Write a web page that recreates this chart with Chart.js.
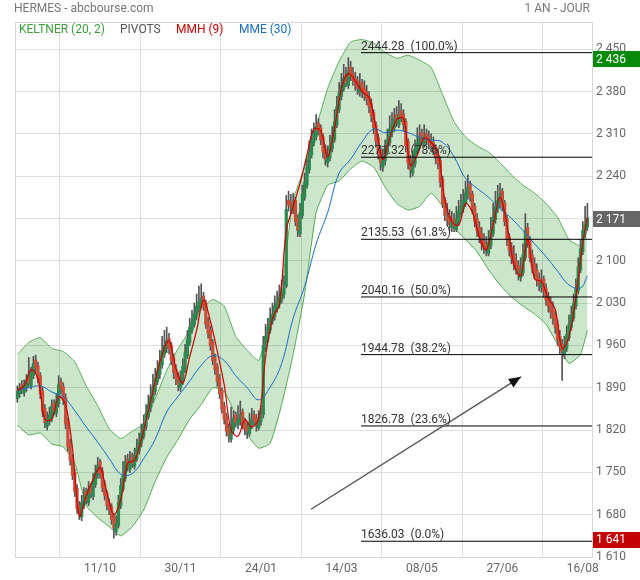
<!DOCTYPE html>
<html><head><meta charset="utf-8">
<script src="https://cdn.jsdelivr.net/npm/chart.js@4.4.1/dist/chart.umd.min.js"></script>
<style>
html,body{margin:0;padding:0;background:#fff;}
#wrap{position:relative;width:640px;height:580px;font-family:Roboto,'DejaVu Sans',sans-serif;overflow:hidden;}
canvas{position:absolute;left:0;top:0;}
.t{position:absolute;font-size:12px;line-height:12px;color:#777;white-space:pre;}
</style></head><body>
<div id="wrap">
<canvas id="c" width="640" height="580"></canvas>
<div class="t" style="left:14px;top:2px">HERMES - abcbourse.com</div>
<div class="t" style="right:50px;top:2px">1 AN - JOUR</div>
<div class="t" style="left:19px;top:23px;color:#3c9f3c">KELTNER (20, 2)</div>
<div class="t" style="left:120px;top:23px;color:#555">PIVOTS</div>
<div class="t" style="left:176px;top:23px;color:#c80000">MMH (9)</div>
<div class="t" style="left:239px;top:23px;color:#1a6fc4">MME (30)</div>
</div>
<script>
// ---- DATA ----
const xTickDays = [36, 71, 106, 141, 176, 211, 246];
const xTickLabels = ['11/10', '30/11', '24/01', '14/03', '08/05', '27/06', '16/08'];
const yTickVals = [1610, 1680, 1750, 1820, 1890, 1960, 2030, 2100, 2170, 2240, 2310, 2380, 2450];

const opens = [
1872,1880,1896,1882,1890,1910,1894,1910,1936,1926,
1910,1884,1856,1826,1834,1840,1864,1848,1864,1900,
1892,1874,1835,1798,1775,1750,1724,1695,1676,1695,
1718,1700,1728,1710,1730,1745,1768,1752,1730,1716,
1700,1693,1677,1652,1662,1695,1722,1740,1772,1755,
1778,1760,1772,1785,1798,1810,1825,1842,1856,1870,
1884,1900,1912,1928,1945,1955,1972,1960,1940,1920,
1910,1890,1900,1920,1942,1965,1985,1995,2008,2020,
2028,2042,2030,2000,1985,1965,1940,1925,1905,1885,
1860,1842,1822,1805,1820,1845,1828,1834,1850,1835,
1826,1814,1828,1845,1840,1824,1834,1845,1955,1970,
1985,2000,2008,2020,2028,2035,2044,2058,2200,2198,
2184,2200,2170,2145,2175,2205,2225,2250,2275,2295,
2305,2328,2320,2305,2285,2262,2270,2285,2300,2325,
2350,2372,2385,2408,2390,2420,2410,2402,2398,2378,
2395,2386,2380,2372,2360,2345,2325,2304,2284,2255,
2265,2280,2295,2312,2320,2342,2325,2348,2342,2330,
2298,2268,2245,2260,2280,2290,2312,2292,2310,2305,
2298,2295,2288,2275,2266,2235,2200,2172,2174,2155,
2170,2152,2166,2178,2186,2195,2208,2228,2210,2190,
2170,2155,2145,2132,2126,2112,2125,2145,2168,2185,
2195,2215,2195,2170,2140,2122,2110,2100,2092,2072,
2080,2105,2155,2135,2110,2095,2085,2072,2055,2070,
2055,2040,2030,2020,2010,1995,1975,1962,1945,1955,
1972,1990,2005,2025,2050,2085,2115,2145,2156];

const highs = [
1893,1897,1902,1903,1912,1940,1924,1942,1944,1932,
1915,1890,1862,1850,1858,1870,1870,1880,1910,1906,
1898,1880,1840,1805,1780,1756,1730,1702,1712,1725,
1724,1735,1732,1748,1762,1775,1772,1758,1736,1720,
1706,1698,1682,1678,1712,1740,1768,1778,1780,1785,
1782,1790,1805,1815,1830,1845,1862,1878,1895,1912,
1922,1935,1952,1975,1985,1990,1980,1965,1946,1928,
1915,1918,1938,1962,1985,2005,2018,2030,2045,2058,
2062,2048,2035,2006,1992,1970,1946,1930,1912,1890,
1866,1848,1830,1858,1852,1850,1860,1868,1855,1840,
1832,1848,1856,1852,1846,1852,1860,1975,1995,2005,
2022,2030,2042,2050,2060,2068,2075,2208,2215,2210,
2212,2205,2176,2195,2225,2245,2268,2298,2318,2328,
2342,2335,2325,2310,2292,2290,2308,2322,2350,2372,
2395,2410,2425,2420,2436,2430,2420,2412,2405,2410,
2400,2398,2390,2380,2368,2350,2330,2310,2290,2285,
2300,2318,2340,2345,2352,2355,2365,2360,2350,2335,
2302,2275,2282,2300,2320,2325,2318,2325,2318,2315,
2310,2305,2292,2285,2272,2240,2205,2195,2185,2182,
2178,2190,2200,2210,2218,2232,2242,2232,2215,2195,
2178,2165,2155,2145,2140,2150,2172,2195,2215,2225,
2228,2220,2200,2175,2145,2130,2125,2112,2100,2105,
2128,2178,2162,2140,2118,2105,2095,2080,2085,2075,
2062,2048,2040,2032,2018,2002,1985,1970,1975,1992,
2010,2025,2045,2070,2105,2135,2165,2190,2195];

const lows = [
1866,1874,1880,1876,1884,1892,1888,1905,1915,1898,
1872,1842,1824,1820,1828,1834,1845,1842,1858,1880,
1862,1822,1785,1762,1738,1710,1682,1672,1670,1690,
1698,1695,1708,1705,1725,1740,1740,1718,1704,1688,
1680,1664,1641,1646,1658,1690,1718,1735,1752,1750,
1758,1755,1768,1780,1792,1805,1820,1838,1850,1865,
1878,1895,1905,1922,1940,1948,1946,1928,1905,1895,
1885,1884,1895,1915,1938,1960,1980,1990,2002,2015,
2022,2018,1988,1972,1952,1928,1912,1892,1872,1848,
1830,1810,1800,1800,1815,1825,1822,1828,1822,1812,
1806,1810,1822,1828,1818,1820,1828,1840,1950,1965,
1980,1995,2002,2015,2022,2030,2038,2055,2182,2178,
2178,2158,2140,2140,2170,2200,2220,2245,2270,2290,
2300,2308,2292,2270,2258,2255,2265,2280,2296,2320,
2345,2366,2380,2388,2385,2398,2390,2382,2375,2372,
2370,2365,2358,2345,2330,2310,2288,2268,2250,2248,
2258,2275,2290,2305,2314,2322,2320,2330,2315,2280,
2252,2238,2240,2255,2275,2285,2290,2288,2292,2285,
2280,2275,2260,2252,2222,2188,2166,2158,2150,2148,
2148,2148,2160,2172,2180,2190,2202,2198,2178,2156,
2140,2130,2118,2112,2108,2108,2120,2140,2162,2180,
2188,2182,2158,2125,2108,2095,2085,2078,2068,2066,
2075,2100,2122,2098,2080,2070,2058,2050,2048,2040,
2026,2015,2005,1995,1980,1960,1945,1902,1938,1950,
1968,1985,2000,2020,2045,2080,2110,2138,2150];

const closes = [
1884,1890,1886,1895,1902,1898,1915,1930,1922,1905,
1880,1850,1832,1838,1845,1860,1852,1868,1895,1888,
1870,1830,1792,1770,1745,1718,1690,1682,1700,1712,
1705,1722,1715,1735,1750,1762,1748,1725,1712,1695,
1688,1672,1658,1665,1700,1728,1745,1768,1760,1772,
1765,1778,1790,1802,1815,1830,1848,1862,1875,1890,
1905,1918,1932,1950,1960,1968,1955,1935,1915,1905,
1895,1905,1925,1948,1970,1990,2000,2012,2025,2032,
2038,2025,1995,1980,1960,1935,1920,1900,1880,1855,
1838,1818,1810,1825,1840,1832,1838,1845,1830,1822,
1818,1832,1840,1835,1828,1838,1842,1960,1975,1990,
2005,2012,2025,2032,2040,2048,2055,2185,2192,2188,
2195,2165,2150,2180,2210,2230,2255,2280,2300,2310,
2322,2315,2300,2280,2268,2275,2290,2305,2330,2355,
2378,2390,2402,2395,2412,2405,2398,2392,2385,2390,
2380,2375,2368,2355,2340,2320,2298,2278,2262,2270,
2285,2300,2318,2325,2335,2330,2340,2338,2325,2290,
2262,2250,2265,2285,2295,2305,2298,2305,2300,2295,
2290,2285,2270,2262,2230,2195,2175,2168,2160,2165,
2158,2170,2182,2190,2200,2212,2222,2205,2185,2165,
2150,2140,2128,2122,2118,2130,2150,2172,2190,2200,
2210,2190,2165,2135,2118,2105,2095,2088,2078,2085,
2110,2150,2130,2105,2090,2080,2068,2060,2065,2050,
2035,2025,2015,2005,1990,1970,1958,1950,1960,1978,
1995,2010,2030,2055,2090,2120,2150,2160,2171];

// MMH (9) read every 3 sessions, plus the last session
const mmh = [
1886,1893,1920,1905,1838,1838,1875,1862,1790,1678,
1712,1738,1758,1716,1680,1705,1765,1770,1805,1852,
1900,1945,1968,1922,1898,1941,1985,2035,2000,1950,
1895,1820,1810,1837,1825,1838,1940,2005,2028,2150,
2190,2228,2275,2318,2315,2272,2320,2385,2410,2398,
2380,2370,2322,2268,2303,2333,2336,2258,2275,2303,
2296,2280,2200,2165,2159,2195,2180,2140,2118,2160,
2205,2160,2095,2075,2135,2070,2066,2038,2020,1955,
1975,2040,2130];
const mmhLast = 2171;

// MME (30) and Keltner bands read every 5 sessions, plus the last session
const mme = [
1886,1890,1893,1883,1875,1852,1825,1800,1773,1747,
1748,1773,1805,1850,1876,1901,1927,1943,1935,1910,
1890,1870,1891,1930,2005,2058,2128,2180,2245,2268,
2297,2318,2312,2316,2312,2304,2300,2296,2272,2236,
2220,2205,2187,2170,2150,2128,2107,2083,2060,2055];
const mmeLast = 2075;
const kUpper = [
1945,1965,1973,1955,1950,1933,1893,1860,1822,1806,
1818,1830,1872,1919,1955,1985,2020,2036,2025,1975,
1952,1935,2000,2060,2200,2255,2320,2385,2430,2462,
2466,2460,2445,2435,2440,2432,2420,2375,2330,2305,
2290,2280,2262,2242,2225,2212,2195,2172,2135,2125];
const kUpperLast = 2160;
const kLower = [
1828,1812,1815,1797,1792,1765,1695,1675,1660,1645,
1660,1688,1735,1775,1805,1838,1862,1890,1884,1845,
1812,1790,1798,1862,1945,2045,2180,2225,2232,2252,
2265,2255,2222,2195,2184,2190,2212,2190,2155,2135,
2115,2085,2060,2040,2025,2012,1995,1962,1930,1945];
const kLowerLast = 1985;

const fibLevels = [2444.28, 2271.32, 2135.53, 2040.16, 1944.78, 1826.78, 1636.03];
const fibPcts = ['100.0%', '78.6%', '61.8%', '50.0%', '38.2%', '23.6%', '0.0%'];
const fibStartDay = 149.5;

const arrowFrom = {day: 127.8, value: 1689};
const arrowTo = {day: 219.1, value: 1908};

const badgeValues = [2436, 2171, 1641];
const badgeColors = ['#078a07', '#666666', '#c40000'];

// ---- BUILD ----
const N = closes.length;
const lastDay = N - 1;
const X_MIN = -1, X_MAX = 250;

function sampled(vals, step, lastVal) {
  const pts = vals.map((v, k) => ({x: k * step, y: v}));
  pts.push({x: lastDay, y: lastVal});
  return pts;
}
const wickData = lows.map((l, i) => ({x: i, y: [l, highs[i]]}));
const bodyData = opens.map((o, i) => ({x: i, y: [o, closes[i]]}));
const isUp = i => closes[i] >= opens[i];

const fmt = v => String(v).replace(/\B(?=(\d{3})+(?!\d))/g, ' ');

const lineBase = {type: 'line', pointRadius: 0, borderWidth: 1, fill: false, tension: 0.4};

const datasets = [
  Object.assign({}, lineBase, {label: 'kUp', data: sampled(kUpper, 5, kUpperLast), borderColor: '#5aae5a',
     fill: '+1', backgroundColor: 'rgba(0,128,0,0.2)', order: 10, tension: 0.15}),
  Object.assign({}, lineBase, {label: 'kLow', data: sampled(kLower, 5, kLowerLast), borderColor: '#5aae5a', order: 10, tension: 0.15}),
  {type: 'bar', label: 'wick', data: wickData, backgroundColor: '#555', barThickness: 1, grouped: false, order: 7},
  {type: 'bar', label: 'body', data: bodyData, grouped: false, order: 6, barThickness: 2.6,
     backgroundColor: c => isUp(c.dataIndex) ? '#2b8a50' : '#c8503a'},
  Object.assign({}, lineBase, {label: 'mme', data: sampled(mme, 5, mmeLast), borderColor: '#1a6fc4', order: 5}),
  Object.assign({}, lineBase, {label: 'mmh', data: sampled(mmh, 3, mmhLast), borderColor: '#cc0000', order: 4, tension: 0.35, borderWidth: 1.2})
];
fibLevels.forEach((lv, k) => {
  datasets.push(Object.assign({}, lineBase, {label: 'fib' + k, data: [{x: fibStartDay, y: lv}, {x: X_MAX, y: lv}],
    borderColor: '#000', borderWidth: 1, tension: 0, order: 2}));
});
datasets.push(Object.assign({}, lineBase, {label: 'arrow', data: [{x: arrowFrom.day, y: arrowFrom.value}, {x: arrowTo.day, y: arrowTo.value}],
  borderColor: '#555', borderWidth: 1.4, tension: 0, order: 1}));

const deco = {
  id: 'deco',
  beforeDraw(chart) {
    const c = chart.ctx; c.save(); c.fillStyle = '#fff'; c.fillRect(0, 0, chart.width, chart.height); c.restore();
  },
  afterDatasetsDraw(chart) {
    const c = chart.ctx, xs = chart.scales.x, ys = chart.scales.y, a = chart.chartArea;
    c.save();
    c.strokeStyle = '#d9d9d9'; c.lineWidth = 1;
    c.strokeRect(Math.round(a.left) + 0.5, Math.round(a.top) + 0.5, Math.round(a.right - a.left), Math.round(a.bottom - a.top));
    // fib labels
    c.font = '12px Roboto, sans-serif'; c.fillStyle = '#333'; c.textBaseline = 'alphabetic'; c.textAlign = 'left';
    fibLevels.forEach((lv, k) => {
      const x = xs.getPixelForValue(fibStartDay), y = ys.getPixelForValue(lv);
      c.fillText(lv.toFixed(2) + '  (' + fibPcts[k] + ')', x, y - 3);
    });
    // arrow head
    const x0 = xs.getPixelForValue(arrowFrom.day), y0 = ys.getPixelForValue(arrowFrom.value);
    const x1 = xs.getPixelForValue(arrowTo.day), y1 = ys.getPixelForValue(arrowTo.value);
    const ang = Math.atan2(y1 - y0, x1 - x0), L = 12, W = 5;
    c.fillStyle = '#111';
    c.beginPath();
    c.moveTo(x1, y1);
    c.lineTo(x1 - L * Math.cos(ang) + W * Math.sin(ang), y1 - L * Math.sin(ang) - W * Math.cos(ang));
    c.lineTo(x1 - L * Math.cos(ang) - W * Math.sin(ang), y1 - L * Math.sin(ang) + W * Math.cos(ang));
    c.closePath(); c.fill();
    c.restore();
  },
  afterDraw(chart) {
    const c = chart.ctx, ys = chart.scales.y, a = chart.chartArea;
    c.save();
    c.font = '12px Roboto, sans-serif'; c.textBaseline = 'middle'; c.textAlign = 'left';
    badgeValues.forEach((v, k) => {
      const y = ys.getPixelForValue(v) + 1.5;
      c.fillStyle = badgeColors[k];
      c.fillRect(a.right + 1, Math.round(y - 8), chart.width - a.right - 1, 16);
      c.fillStyle = '#fff';
      c.fillText(fmt(v), a.right + 4, y + 0.5);
    });
    c.restore();
  }
};

Chart.defaults.font.family = "Roboto, 'DejaVu Sans', sans-serif";
new Chart(document.getElementById('c'), {
  type: 'bar',
  data: {datasets},
  options: {
    responsive: false, animation: false, events: [],
    layout: {padding: {left: 15, top: 22, right: 0, bottom: 0}, autoPadding: false},
    plugins: {legend: {display: false}, tooltip: {enabled: false}},
    scales: {
      x: {type: 'linear', min: X_MIN, max: X_MAX, offset: false,
        afterBuildTicks: s => { s.ticks = xTickDays.map(v => ({value: v})); },
        afterFit: s => { s.height = 23; },
        ticks: {callback: (v, i) => xTickLabels[i], color: '#666', font: {size: 12}, padding: 5, maxRotation: 0, autoSkip: false},
        grid: {color: '#dedede', drawTicks: false}, border: {display: false}},
      y: {position: 'right', min: 1610, max: 2495,
        afterBuildTicks: s => { s.ticks = yTickVals.map(v => ({value: v})); },
        afterFit: s => { s.width = 48; },
        ticks: {callback: v => fmt(v), color: '#666', font: {size: 12}, padding: 4},
        grid: {color: '#dedede', drawTicks: false}, border: {display: false}}
    }
  },
  plugins: [deco]
});
</script>
</body></html>
